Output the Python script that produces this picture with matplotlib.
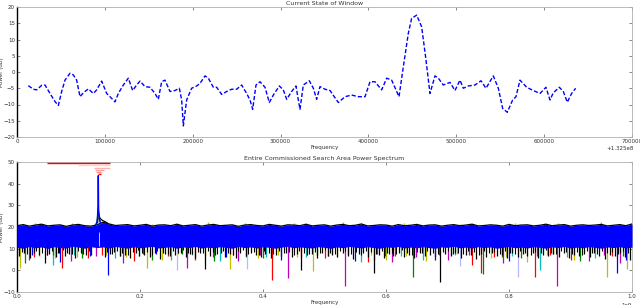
import matplotlib
matplotlib.use("Agg")
import matplotlib.pyplot as plt
import numpy as np

# ---------------- top panel: current window ----------------
win_center_label = '+1.325e8'
win_offset = [12900, 18590, 22390, 28080, 31870, 37560, 43250, 47040, 50840, 54630,
              60320, 64110, 67900, 71710, 75500, 81190, 86880, 90680, 96370, 102060,
              105850, 111540, 115330, 121020, 126710, 131640, 136200, 140000, 145690, 151380,
              157070, 160860, 164660, 168450, 174150, 179840, 184770, 187420, 189320, 193110,
              198800, 204490, 208280, 213970, 217760, 223450, 227250, 232940, 238630, 244320,
              250010, 255710, 261400, 265190, 268230, 272030, 276580, 282270, 287200, 291750,
              298580, 303130, 306930, 312620, 317550, 320210, 322110, 325900, 332730, 337280,
              341070, 344870, 350560, 356250, 365740, 373340, 380930, 388520, 396100, 401790,
              407480, 415070, 420760, 426450, 434800, 439720, 445410, 449200, 454900, 460590,
              465520, 470070, 475760, 479550, 485240, 492830, 498520, 504210, 508000, 513690,
              521280, 528110, 533800, 542150, 547840, 552770, 558080, 564150, 567940, 572490,
              580080, 587660, 595260, 602090, 606640, 610430, 617260, 621810, 626370, 631300,
              635860]
win_power = [-4.2, -5.3, -5.5, -4.1, -4.0, -6.6, -9.1, -10.3, -6.0, -2.5,
             -0.4, -0.9, -2.5, -7.6, -6.4, -5.2, -6.6, -5.5, -2.8, -6.6,
             -7.6, -9.2, -6.6, -4.0, -1.9, -5.7, -4.0, -2.8, -4.5, -4.7,
             -6.6, -8.4, -3.0, -2.5, -6.0, -5.7, -5.0, -8.6, -16.6, -8.6,
             -5.0, -4.3, -3.5, -1.2, -1.9, -4.7, -4.7, -6.9, -6.0, -5.3,
             -5.3, -4.0, -6.6, -8.6, -11.5, -4.0, -3.0, -4.7, -9.4, -7.1,
             -4.3, -5.5, -8.4, -6.0, -4.3, -8.6, -11.5, -4.0, -2.7, -5.0,
             -8.4, -4.5, -5.3, -5.7, -9.4, -7.6, -7.1, -7.6, -7.6, -3.0,
             -3.0, -5.5, -1.9, -2.5, -7.6, 1.6, 11.9, 16.5, 17.5, 13.9,
             3.7, -6.6, -1.2, -1.9, -4.0, -3.2, -5.7, -2.5, -5.0, -4.3,
             -4.0, -2.7, -5.0, -1.2, -5.0, -11.2, -12.4, -8.6, -7.6, -2.5,
             -4.7, -5.7, -6.6, -4.7, -8.6, -6.4, -4.7, -6.0, -9.3, -6.6,
             -5.0]

# ---------------- bottom panel: full search area (x in units of 1e9 Hz) ----------------
band_freq = [0.00, 0.01, 0.02, 0.03, 0.04, 0.05, 0.06, 0.07, 0.08, 0.09,
             0.10, 0.11, 0.12, 0.13, 0.14, 0.15, 0.16, 0.17, 0.18, 0.19,
             0.20, 0.21, 0.22, 0.23, 0.24, 0.25, 0.26, 0.27, 0.28, 0.29,
             0.30, 0.31, 0.32, 0.33, 0.34, 0.35, 0.36, 0.37, 0.38, 0.39,
             0.40, 0.41, 0.42, 0.43, 0.44, 0.45, 0.46, 0.47, 0.48, 0.49,
             0.50, 0.51, 0.52, 0.53, 0.54, 0.55, 0.56, 0.57, 0.58, 0.59,
             0.60, 0.61, 0.62, 0.63, 0.64, 0.65, 0.66, 0.67, 0.68, 0.69,
             0.70, 0.71, 0.72, 0.73, 0.74, 0.75, 0.76, 0.77, 0.78, 0.79,
             0.80, 0.81, 0.82, 0.83, 0.84, 0.85, 0.86, 0.87, 0.88, 0.89,
             0.90, 0.91, 0.92, 0.93, 0.94, 0.95, 0.96, 0.97, 0.98, 0.99, 1.00]
band_top = [20.6, 21.1, 20.4, 20.9, 21.3, 20.5, 20.8, 21.0, 20.3, 20.9,
            21.2, 20.6, 20.4, 21.0, 22.2, 21.4, 20.7, 20.9, 21.1, 20.5,
            20.8, 21.2, 20.4, 20.9, 21.0, 20.6, 21.3, 20.5, 20.8, 21.1,
            20.4, 20.9, 21.2, 20.6, 20.8, 21.0, 20.3, 20.9, 21.1, 20.7,
            20.5, 21.2, 20.8, 20.4, 21.0, 20.9, 20.6, 21.3, 20.5, 20.8,
            21.0, 20.4, 20.9, 21.2, 20.6, 20.8, 21.4, 20.5, 20.7, 21.0,
            20.9, 20.4, 21.1, 20.6, 20.8, 21.2, 20.5, 20.9, 21.0, 20.4,
            20.8, 21.1, 20.6, 20.9, 21.3, 20.5, 20.7, 21.0, 20.8, 20.4,
            21.2, 20.6, 20.9, 21.0, 20.5, 20.8, 21.3, 20.6, 20.9, 21.1,
            20.4, 20.8, 21.0, 20.7, 20.9, 21.2, 20.5, 20.8, 21.1, 20.6, 21.4]
band_low = [10.6, 10.2, 11.0, 10.4, 10.8, 10.1, 10.9, 10.5, 10.3, 11.1,
            10.7, 10.2, 10.9, 10.5, 10.8, 10.3, 11.0, 10.6, 10.2, 10.9,
            10.4, 10.7, 11.1, 10.3, 10.6, 10.9, 10.2, 10.8, 10.5, 11.0,
            10.3, 10.7, 10.4, 10.9, 10.6, 10.2, 11.0, 10.5, 10.8, 10.3,
            10.9, 10.6, 10.2, 10.7, 11.1, 10.4, 10.8, 10.5, 10.3, 10.9,
            10.6, 10.2, 10.8, 10.4, 11.0, 10.7, 10.3, 10.9, 10.5, 10.2,
            10.8, 10.6, 11.0, 10.3, 10.7, 10.4, 10.9, 10.5, 10.2, 10.8,
            10.6, 11.1, 10.4, 10.7, 10.3, 10.9, 10.5, 10.8, 10.2, 10.6,
            11.0, 10.4, 10.7, 10.3, 10.9, 10.6, 10.2, 10.8, 10.5, 11.0,
            10.3, 10.7, 10.4, 10.9, 10.6, 10.2, 10.8, 10.5, 10.9, 10.3, 10.7]

peak_freq = [0.127, 0.1305, 0.1318, 0.1322, 0.1327, 0.1345, 0.137]
peak_power = [20.5, 22.5, 30.0, 43.7, 28.0, 23.0, 21.0]
green_peak_freq = [0.129, 0.1315, 0.1322, 0.133, 0.136]
green_peak_power = [21.0, 25.5, 27.8, 25.0, 21.5]
black_peak_freq = [0.131, 0.1325, 0.135, 0.139, 0.143, 0.147]
black_peak_power = [22.0, 26.0, 24.0, 23.0, 22.5, 21.8]

black_freq = [0.004, 0.012, 0.021, 0.027, 0.036, 0.046, 0.052, 0.063, 0.069, 0.078,
              0.085, 0.094, 0.104, 0.112, 0.121, 0.143, 0.152, 0.158, 0.167, 0.176,
              0.184, 0.193, 0.199, 0.207, 0.216, 0.224, 0.233, 0.241, 0.248, 0.257,
              0.266, 0.274, 0.281, 0.289, 0.298, 0.306, 0.314, 0.322, 0.331, 0.338,
              0.347, 0.356, 0.363, 0.372, 0.381, 0.389, 0.397, 0.404, 0.413, 0.421,
              0.430, 0.438, 0.447, 0.455, 0.462, 0.471, 0.479, 0.488, 0.496, 0.505,
              0.513, 0.521, 0.530, 0.538, 0.547, 0.556, 0.563, 0.571, 0.580, 0.588,
              0.597, 0.605, 0.612, 0.621, 0.630, 0.638, 0.646, 0.655, 0.663, 0.671,
              0.680, 0.688, 0.696, 0.705, 0.713, 0.722, 0.730, 0.738, 0.747, 0.755,
              0.763, 0.772, 0.780, 0.789, 0.797, 0.805, 0.814, 0.822, 0.830, 0.839,
              0.847, 0.856, 0.864, 0.872, 0.881, 0.889, 0.897, 0.906, 0.914, 0.922,
              0.931, 0.939, 0.947, 0.956, 0.964, 0.972, 0.981, 0.989, 0.996]
black_low = [6.5, 7.8, 5.9, 8.2, 7.0, 3.2, 7.5, 6.2, 8.0, 6.8,
             7.4, 5.6, 8.1, 6.9, 7.2, 6.0, 7.7, 8.3, 6.4, 7.1,
             5.8, 7.9, 6.6, 7.3, 6.1, 8.0, 5.2, 7.6, 6.8, 7.0,
             8.2, 6.3, 7.5, 5.9, 7.8, 0.4, 6.7, 7.2, 8.1, 6.0,
             7.4, 5.5, 7.9, 6.6, 8.0, 7.1, 6.2, 7.7, 5.7, 7.3,
             6.8, 8.2, 6.0, 7.5, 0.0, 6.9, 7.6, 5.8, 8.1, 6.5,
             7.2, 6.1, 7.8, 6.7, 5.4, 7.4, 8.0, 6.3, -1.4, 7.0,
             5.9, 7.7, 6.6, 8.1, 6.2, 7.3, 5.6, 7.9, 6.8, 7.1,
             6.0, -5.6, 7.5, 6.4, 8.2, 5.8, 7.2, 6.9, 5.3, 7.6,
             6.3, 8.0, 6.7, 7.3, 5.5, 7.8, 6.1, 7.4, 6.6, 8.1,
             5.9, 7.0, 6.5, 7.7, 6.2, 8.0, 5.7, 7.2, 6.8, 7.5,
             6.0, 7.9, 6.4, 5.4, 7.3, 6.7, 8.1, 6.3, 5.0]
black2_freq = [0.008, 0.017, 0.031, 0.041, 0.049, 0.057, 0.066, 0.074, 0.082, 0.090,
               0.099, 0.108, 0.117, 0.147, 0.155, 0.163, 0.171, 0.180, 0.188, 0.196,
               0.203, 0.212, 0.220, 0.228, 0.237, 0.245, 0.253, 0.262, 0.270, 0.278,
               0.285, 0.294, 0.302, 0.310, 0.318, 0.326, 0.335, 0.343, 0.351, 0.359,
               0.368, 0.376, 0.385, 0.393, 0.401, 0.409, 0.417, 0.426, 0.434, 0.443,
               0.451, 0.459, 0.467, 0.475, 0.484, 0.492, 0.500, 0.509, 0.517, 0.526,
               0.534, 0.543, 0.551, 0.559, 0.567, 0.576, 0.584, 0.593, 0.601, 0.609,
               0.617, 0.626, 0.634, 0.642, 0.651, 0.659, 0.667, 0.676, 0.684, 0.692,
               0.701, 0.709, 0.717, 0.726, 0.734, 0.743, 0.751, 0.759, 0.768, 0.776,
               0.785, 0.793, 0.801, 0.810, 0.818, 0.826, 0.835, 0.843, 0.852, 0.860,
               0.868, 0.877, 0.885, 0.893, 0.902, 0.910, 0.918, 0.927, 0.935, 0.943,
               0.952, 0.960, 0.968, 0.977, 0.985, 0.993]
black2_low = [8.4, 7.6, 9.0, 8.1, 7.3, 8.7, 7.9, 9.2, 8.0, 7.5,
              8.8, 7.7, 9.1, 8.3, 7.4, 8.9, 8.0, 7.2, 8.6, 9.3,
              7.8, 8.5, 7.1, 9.0, 8.2, 7.6, 8.8, 7.9, 9.2, 8.1,
              7.4, 8.6, 7.8, 9.1, 8.3, 7.5, 8.9, 8.0, 7.3, 8.7,
              9.2, 7.7, 8.4, 7.2, 9.0, 8.1, 7.6, 8.8, 7.9, 8.5,
              7.3, 9.1, 8.2, 7.5, 8.6, 7.8, 9.3, 8.0, 7.4, 8.7,
              8.9, 7.6, 8.3, 7.1, 9.0, 8.4, 7.7, 8.8, 7.9, 8.2,
              7.5, 9.2, 8.1, 7.3, 8.6, 7.8, 9.1, 8.0, 7.6, 8.5,
              8.9, 7.4, 8.2, 7.7, 9.0, 8.3, 7.2, 8.7, 7.9, 8.4,
              7.6, 9.1, 8.0, 7.5, 8.8, 8.2, 7.3, 8.6, 7.8, 9.2,
              8.1, 7.4, 8.9, 8.3, 7.7, 8.5, 7.1, 9.0, 8.2, 7.6,
              8.7, 7.9, 8.4, 7.5, 9.1, 8.0]

yellow_freq = [0.005, 0.035, 0.062, 0.098, 0.145, 0.178, 0.211, 0.236, 0.262, 0.305,
               0.346, 0.392, 0.425, 0.455, 0.481, 0.520, 0.575, 0.600, 0.633, 0.665,
               0.715, 0.770, 0.795, 0.830, 0.862, 0.905, 0.959, 0.975, 0.992]
yellow_low = [0.9, 6.5, 5.5, 6.0, 7.0, 6.0, 0.9, 5.0, 7.5, 6.5,
              0.4, 5.5, 7.0, 6.0, -0.3, 6.0, 7.0, 5.0, 6.5, 4.5,
              7.5, 5.5, 6.0, 4.0, 7.0, 5.0, -3.2, 6.0, 0.4]
yellow_top_freq = [0.030, 0.090, 0.220, 0.310, 0.370, 0.450, 0.530, 0.630, 0.720, 0.810,
                   0.880, 0.950]
yellow_top = [21.8, 22.0, 21.6, 22.1, 21.7, 21.9, 22.4, 21.8, 21.6, 22.0, 21.7, 22.2]
magenta_freq = [0.020, 0.048, 0.088, 0.128, 0.173, 0.205, 0.276, 0.318, 0.360, 0.395,
                0.441, 0.505, 0.533, 0.585, 0.610, 0.648, 0.700, 0.735, 0.790, 0.845,
                0.878, 0.930, 0.955, 0.980]
magenta_low = [5.0, 7.0, 4.5, 6.5, 3.2, 7.5, 0.9, 6.0, 4.5, 7.0,
               -3.5, 6.5, -7.0, 7.5, 4.0, 6.0, 5.0, 7.0, 3.5, 6.5,
               -7.0, 4.5, 7.0, 3.5]
red_freq = [0.028, 0.073, 0.115, 0.138, 0.190, 0.245, 0.290, 0.352, 0.414, 0.462,
            0.500, 0.538, 0.570, 0.615, 0.686, 0.740, 0.754, 0.776, 0.842, 0.866,
            0.900, 0.968]
red_low = [6.0, 0.9, 5.5, 7.0, 4.5, 6.5, 5.0, 7.0, -4.6, 6.0,
           5.5, 7.5, 4.0, 6.5, 7.0, 2.3, -1.4, 6.0, -3.2, 7.0,
           5.0, 6.5]
cyan_freq = [0.059, 0.092, 0.160, 0.198, 0.250, 0.285, 0.330, 0.405, 0.470, 0.512,
             0.560, 0.625, 0.660, 0.712, 0.805, 0.850, 0.895, 0.940]
cyan_low = [2.3, 7.0, 5.5, 6.5, 5.0, 7.0, 4.5, 6.0, 6.0, 7.5,
            4.0, 6.5, 5.0, 7.0, 6.5, 0.0, 6.0, 5.5]
green_freq = [0.013, 0.058, 0.105, 0.168, 0.220, 0.268, 0.320, 0.372, 0.400, 0.488,
              0.580, 0.598, 0.644, 0.705, 0.758, 0.788, 0.820, 0.872, 0.915, 0.985]
green_low = [3.2, 7.0, 5.5, 6.5, 5.0, 7.5, 4.5, 6.0, 5.5, 7.0,
             5.0, 6.5, -3.2, 7.0, -1.9, 6.0, 5.5, 7.5, 4.5, 6.5]
blue_freq = [0.024, 0.070, 0.118, 0.148, 0.226, 0.340, 0.430, 0.550, 0.680, 0.800,
             0.976, 0.990]
blue_low = [7.0, 4.0, 6.5, -2.3, 7.5, 6.0, 5.0, 4.5, 5.0, 4.5,
            -1.4, 5.0]
pale_freq = [0.260, 0.374, 0.720, 0.815]
pale_low = [0.0, 0.5, 2.0, -3.2]

marker_level = [49.4, 48.6, 47.2, 46.3, 45.5, 44.4]
marker_start = [0.049, 0.099, 0.125, 0.127, 0.128, 0.131]
marker_stop = [0.151, 0.151, 0.151, 0.141, 0.137, 0.137]
marker_colors = ['#ff0000', '#ffd0d0', '#ffb0b0', '#ff9f9f', '#ff8a8a', '#ff0000']

# ---------------- figure ----------------
plt.rcParams['font.family'] = ['DejaVu Sans']
fig = plt.figure(figsize=(6.4, 3.05), dpi=100)
fs = 4
txt = '#333333'

def style(ax):
    for side in ['top', 'right', 'bottom']:
        ax.spines[side].set_color('#b0b0b0')
        ax.spines[side].set_linewidth(0.6)
    ax.spines['left'].set_color('black')
    ax.spines['left'].set_linewidth(1.0)
    ax.tick_params(direction='in', length=2, width=0.5, colors='#555555',
                   labelsize=fs, pad=1.5, top=True, right=True, labelcolor=txt)
    ax.xaxis.get_offset_text().set_fontsize(fs)
    ax.xaxis.get_offset_text().set_color(txt)
    ax.yaxis.set_label_coords(-0.021, 0.5)

ax1 = fig.add_axes([17/640, 1-137/305, 615/640, 130/305])
ax1.plot(win_offset, win_power, color='#0000ff', lw=1.0, ls=(0, (3, 1.5)))
ax1.set_xlim(0, 700000)
ax1.set_ylim(-20, 20)
ax1.set_xticks([0, 100000, 200000, 300000, 400000, 500000, 600000, 700000])
ax1.set_yticks([-20, -15, -10, -5, 0, 5, 10, 15, 20])
style(ax1)
ax1.set_title('Current State of Window', fontsize=4.5, pad=1.5, color=txt)
ax1.set_xlabel('Frequency', fontsize=fs, labelpad=1, color=txt)
ax1.set_ylabel('Power (dB)', fontsize=fs, color=txt)
fig.text(634/640, 1-148/305, win_center_label, fontsize=fs, ha='right', va='center', color=txt)

ax2 = fig.add_axes([17/640, 1-292/305, 615/640, 130/305])
scale = 1e9
def s(v):
    return [x * scale for x in v]

for fr, lo, col in [(yellow_freq, yellow_low, '#bfbf00'),
                    (magenta_freq, magenta_low, '#bf00bf'),
                    (red_freq, red_low, '#ff0000'),
                    (cyan_freq, cyan_low, '#00bfbf'),
                    (green_freq, green_low, '#008000'),
                    (pale_freq, pale_low, '#b8b8ff')]:
    ax2.vlines(s(fr), lo, [12] * len(fr), colors=col, lw=0.9, zorder=2)
ax2.vlines(s(black_freq), black_low, [12] * len(black_freq), colors='black', lw=0.9, zorder=3)
ax2.vlines(s(black2_freq), black2_low, [12] * len(black2_freq), colors='black', lw=0.8, zorder=3)
ax2.vlines(s(blue_freq), blue_low, [12] * len(blue_freq), colors='#0000ff', lw=0.9, zorder=3)
ax2.vlines(s(yellow_top_freq), [20] * len(yellow_top_freq), yellow_top,
           colors='#bfbf00', lw=1.0, zorder=3)
ax2.fill_between(s(band_freq), band_low, band_top, color='#0000ff', lw=0, zorder=4)
ax2.plot(s(band_freq), band_top, color='black', lw=0.9, zorder=5)
ax2.vlines([0.1330 * scale], [11.0], [17.5], colors='#ffd8ec', lw=0.6, zorder=6)
ax2.plot(s(black_peak_freq), black_peak_power, color='black', lw=0.9, zorder=6)
ax2.plot(s(green_peak_freq), green_peak_power, color='#008000', lw=0.9, zorder=6)
ax2.plot(s(peak_freq), peak_power, color='#0000ff', lw=1.0, zorder=7)
for lev, a, b, c in zip(marker_level, marker_start, marker_stop, marker_colors):
    ax2.hlines(lev, a * scale, b * scale, colors=c, lw=1.0, zorder=8)

ax2.set_xlim(0, 1e9)
ax2.set_ylim(-10, 50)
ax2.set_yticks([-10, 0, 10, 20, 30, 40, 50])
ax2.set_xticks([0, 0.2e9, 0.4e9, 0.6e9, 0.8e9, 1.0e9])
style(ax2)
ax2.set_title('Entire Commissioned Search Area Power Spectrum', fontsize=4.5, pad=1.5, color=txt)
ax2.set_xlabel('Frequency', fontsize=fs, labelpad=1, color=txt)
ax2.set_ylabel('Power (dB)', fontsize=fs, color=txt)

fig.savefig('out.png', dpi=100)
